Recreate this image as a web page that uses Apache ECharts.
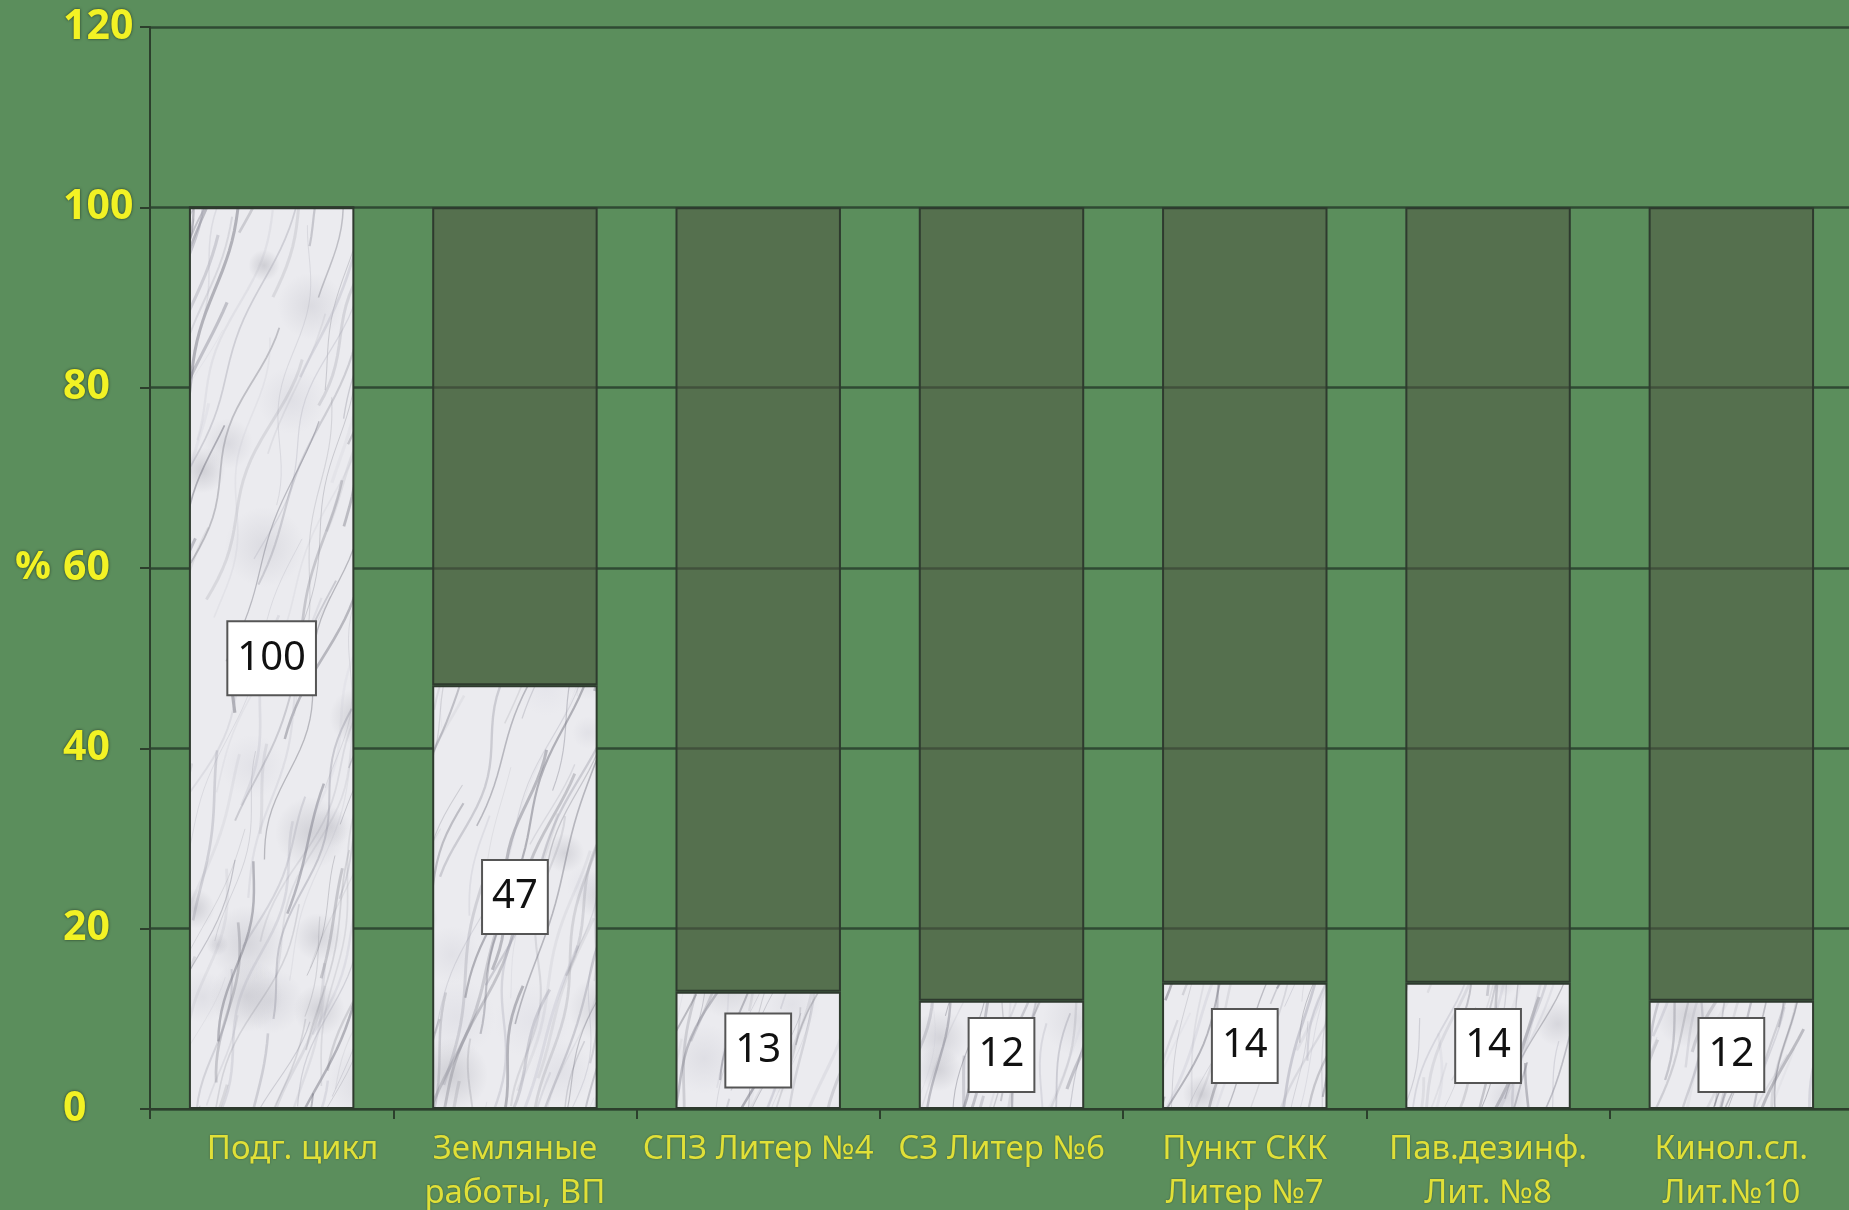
<!DOCTYPE html>
<html>
<head>
<meta charset="utf-8">
<script src="https://cdn.jsdelivr.net/npm/echarts@6/dist/echarts.min.js"></script>
<style>
html,body{margin:0;padding:0;background:#5B8E5C;}
#chart{width:1849px;height:1210px;}
</style>
</head>
<body>
<div id="chart"></div>
<script>
// ---- data ----
const categories = ['Подг. цикл', 'Земляные\nработы, ВП', 'СПЗ Литер №4', 'СЗ Литер №6', 'Пункт СКК\nЛитер №7', 'Пав.дезинф.\nЛит. №8', 'Кинол.сл.\nЛит.№10'];
const doneValues = [100, 47, 13, 12, 14, 14, 12];
const remainValues = [0, 53, 87, 88, 86, 86, 88];
const yTicks = [0, 20, 40, 60, 80, 100, 120];

// ---- marble texture (decorative style only, deterministic) ----
function makeMarble() {
  const c = document.createElement('canvas');
  c.width = 1849; c.height = 1210;
  const g = c.getContext('2d');
  g.fillStyle = '#EBEBEF';
  g.fillRect(0, 0, c.width, c.height);
  let s = 11;
  const rnd = () => { s = (s * 9301 + 49297) % 233280; return s / 233280; };
  for (let i = 0; i < 260; i++) {
    const x = rnd() * c.width, y = rnd() * c.height, r = 10 + rnd() * 30;
    const shade = 170 + Math.floor(rnd() * 55);
    const grd = g.createRadialGradient(x, y, 0, x, y, r);
    grd.addColorStop(0, 'rgba(' + shade + ',' + shade + ',' + (shade + 8) + ',0.45)');
    grd.addColorStop(1, 'rgba(' + shade + ',' + shade + ',' + (shade + 8) + ',0)');
    g.fillStyle = grd;
    g.fillRect(x - r, y - r, 2 * r, 2 * r);
  }
  for (let i = 0; i < 1300; i++) {
    const x0 = rnd() * (c.width + 300) - 100;
    const y0 = rnd() * (c.height + 200);
    const len = 60 + rnd() * 300;
    const shade = 95 + Math.floor(rnd() * 100);
    g.strokeStyle = 'rgba(' + shade + ',' + shade + ',' + (shade + 12) + ',' + (0.12 + rnd() * 0.35) + ')';
    g.lineWidth = 0.6 + rnd() * 2.6;
    g.beginPath();
    let x = x0, y = y0;
    g.moveTo(x, y);
    const lean = 0.1 + rnd() * 0.35;
    const amp = 2 + rnd() * 5;
    const ph = rnd() * 6;
    for (let t = 0; t < len; t += 10) {
      y -= 10;
      x += lean * 10 + Math.sin(t / 30 + ph) * amp * 0.4;
      g.lineTo(x, y);
    }
    g.stroke();
  }
  return c;
}
const marble = makeMarble();

const chart = echarts.init(document.getElementById('chart'), null, { renderer: 'canvas' });
const axisDark = '#2C3F2C';
const yLabelStyle = {
  color: '#F2F224', fontFamily: 'Open Sans', fontWeight: 'bold', fontSize: 41,
  textShadowColor: 'rgba(0,0,0,0.6)', textShadowBlur: 3
};
const option = {
  backgroundColor: '#5B8E5C',
  animation: false,
  grid: { left: 150, top: 27, bottom: 101, width: 1703, containLabel: false, outerBoundsMode: 'none' },
  xAxis: {
    type: 'category',
    data: categories,
    axisLine: { show: true, lineStyle: { color: axisDark, width: 2 } },
    axisTick: { show: true, length: 10, lineStyle: { color: axisDark, width: 2 } },
    axisLabel: {
      color: '#E0E038', fontFamily: 'Noto Sans', fontSize: 33, lineHeight: 44, margin: 19,
      interval: 0,
      textShadowColor: 'rgba(0,0,0,0.4)', textShadowBlur: 2,
      formatter: (v, i) => (i === 0 ? '{a|' + v + '}' : v),
      rich: { a: { padding: [0, 0, 0, 42], color: '#E0E038', fontFamily: 'Noto Sans', fontSize: 33, lineHeight: 44 } }
    },
    splitLine: { show: false }
  },
  yAxis: {
    type: 'value',
    min: 0, max: 120, interval: 20,
    name: '%',
    nameLocation: 'middle',
    nameRotate: 0,
    nameGap: 135,
    nameTextStyle: Object.assign({ align: 'left', verticalAlign: 'middle', padding: [8, 0, 0, 0] }, yLabelStyle, { fontSize: 40 }),
    axisLine: { show: true, lineStyle: { color: axisDark, width: 2 } },
    axisTick: { show: true, length: 10, lineStyle: { color: axisDark, width: 2 } },
    axisLabel: Object.assign({
      align: 'left', margin: 87, padding: [8, 0, 0, 0],
      formatter: v => (yTicks.includes(v) ? String(v) : '')
    }, yLabelStyle),
    splitLine: { show: true, lineStyle: { color: '#2F4A33', width: 2.5 } }
  },
  series: [
    {
      type: 'bar',
      stack: 'total',
      data: doneValues,
      barWidth: '68%',
      itemStyle: {
        color: { image: marble, repeat: 'no-repeat' },
        borderColor: '#2E3A2E', borderWidth: 2
      },
      label: {
        show: true,
        position: 'inside',
        color: '#111',
        fontFamily: 'Noto Sans',
        fontSize: 40,
        lineHeight: 48,
        backgroundColor: '#FFFFFF',
        borderColor: '#555555',
        borderWidth: 2,
        padding: [12, 9]
      }
    },
    {
      type: 'bar',
      stack: 'total',
      data: remainValues,
      itemStyle: {
        color: 'rgba(80,88,67,0.55)',
        borderColor: '#2E3A2E', borderWidth: 2
      },
      label: { show: false }
    }
  ]
};
chart.setOption(option);
</script>
</body>
</html>
